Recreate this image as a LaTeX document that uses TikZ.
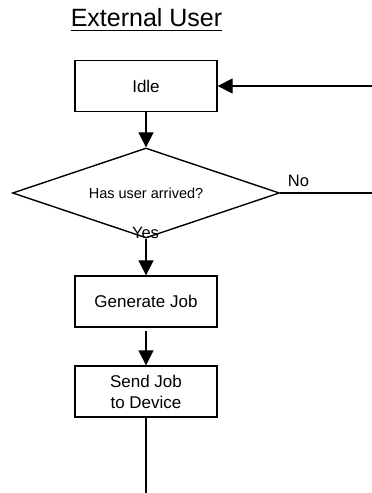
\documentclass[tikz,border=0pt]{standalone}
\usepackage{fontspec}
\setmainfont{Liberation Sans}
\usetikzlibrary{arrows.meta,shapes.geometric}

\tikzset{
  box/.style={draw, line width=1.4pt, rectangle, minimum width=142pt, minimum height=51pt,
              inner sep=0pt, align=center, font=\fontsize{17}{21}\selectfont},
  test/.style={draw, line width=1.4pt, diamond, aspect=2.97, minimum width=267pt,
               minimum height=90pt, inner sep=0pt, font=\fontsize{14.5}{17}\selectfont},
  flow/.style={line width=1.4pt, -{Triangle[length=15pt,width=15pt]}},
  link/.style={line width=1.4pt},
  tag/.style={inner sep=0pt, anchor=base, font=\fontsize{16.5}{19}\selectfont}
}

\begin{document}
\begin{tikzpicture}[x=1pt,y=1pt]
    \useasboundingbox (0,0) rectangle (372,493);
    % heading
    \node[inner sep=0pt, anchor=base, font=\fontsize{25}{28}\selectfont] (title) at (146.5,466.3) {External User};
    \draw[line width=1.5pt] ([yshift=-4pt]title.base west) -- ([yshift=-4pt]title.base east);

    % steps of the loop
    \node[box] (idle) at (146,407) {Idle};
    \node[test] (ask) at (146,300) {Has user arrived?};
    \node[box] (gen) at (146,191.5) {Generate Job};
    \node[box] (send) at (146,101.5) {Send Job\\to Device};

    \coordinate (back) at (372,407);
    \coordinate (noend) at (372,300);
    \coordinate (out) at (146,0);

    \node[tag] (no) at (298.5,306.3) {No};
    \node[tag] (yes) at (145.5,254.5) {Yes};

    \draw[flow] (back) -- (idle.east);
    \draw[flow] (idle) -- (ask);
    \draw[link] (ask.east) -- (noend);
    \draw[flow] (ask) -- (gen);
    \draw[flow, shorten <=3pt] (gen) -- (send);
    \draw[link] (send) -- (out);
\end{tikzpicture}
\end{document}
